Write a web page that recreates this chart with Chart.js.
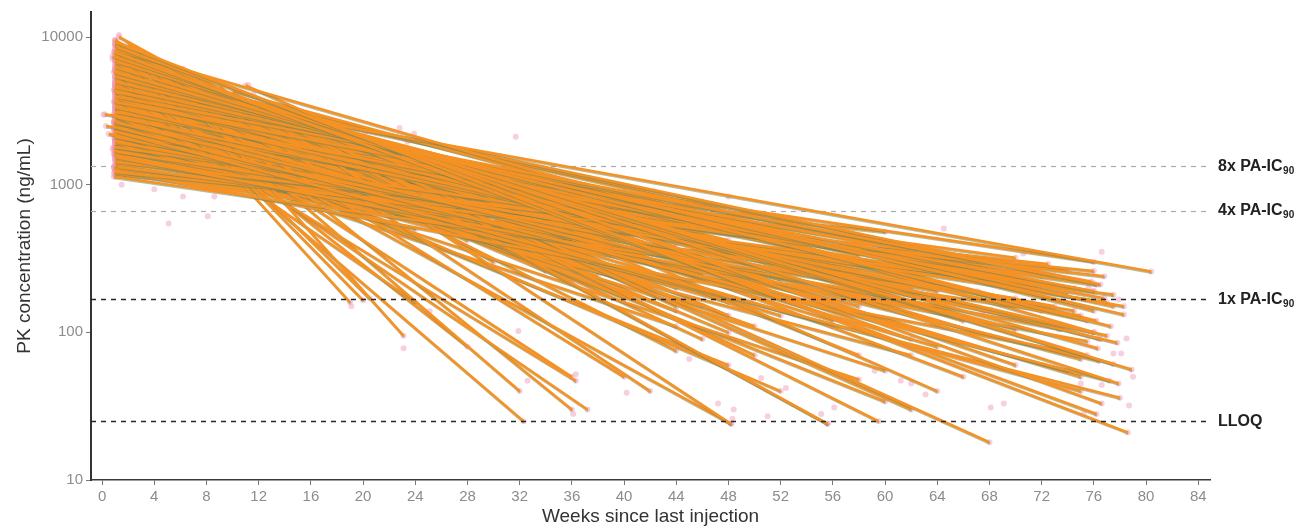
<!DOCTYPE html>
<html>
<head>
<meta charset="utf-8">
<script src="https://cdn.jsdelivr.net/npm/chart.js@4.4.1/dist/chart.umd.min.js"></script>
<style>
  html, body { margin: 0; padding: 0; background: #ffffff; }
  #wrap { width: 1301px; height: 528px; position: relative; }
</style>
</head>
<body>
<div id="wrap"><canvas id="pk"></canvas></div>
<script>
// ---- individual PK profiles: first and last observation per participant ----
const startWeek = [
  1.0, 1.1, 0.9, 1.0, 1.2, 1.0, 0.9, 1.1, 1.0, 1.0,
  1.0, 1.2, 0.9, 1.0, 1.1, 1.0, 0.9, 1.0, 1.1, 1.0,
  1.0, 0.9, 1.1, 1.0, 1.0, 1.2, 1.0, 0.9, 1.0, 1.1,
  1.0, 1.0, 0.9, 1.1, 1.0, 1.0, 1.2, 1.0, 0.9, 1.0,
  8.0, 4.0, 6.2, 9.0, 11.0, 2.0, 3.0, 5.0, 7.0, 10.0,
  12.0, 6.0, 9.0, 14.0, 1.0, 1.5, 1.0, 4.0, 1.0, 1.0,
  1.0, 1.1, 1.0, 1.0, 1.2, 1.0, 1.0, 2.0, 1.3, 1.0,
  1.0, 0.9, 1.0, 1.1, 1.0, 1.0, 1.0, 1.2, 0.9, 1.0,
  1.0, 1.1, 1.0, 1.0, 0.9, 1.0, 1.0, 1.1, 1.0, 1.0,
  1.0, 0.9, 1.0, 1.0, 1.1, 0.2, 0.3, 0.5, 1.0, 1.0,
  1.0, 1.1, 1.0, 0.9, 1.0, 2.0, 1.0, 1.0, 3.0, 1.0,
  1.0, 1.0, 1.1, 1.0, 1.0, 0.9, 1.0, 1.0, 1.1, 1.0,
  1.0, 1.0, 1.0, 1.2, 1.0, 1.0, 2.0, 1.0, 1.0, 1.0,
  1.1, 1.0, 0.9, 1.0, 1.0, 1.1, 1.0, 1.0, 1.0, 1.0,
  1.2, 1.0, 1.0, 0.9, 1.0, 1.0, 1.1, 1.0, 2.0, 3.0,
  4.0, 5.0, 6.0, 7.0, 8.0, 10.0, 1.0, 1.0, 1.0, 1.0,
  1.0, 1.0, 1.0, 1.1, 1.0, 1.0, 1.0, 1.0, 0.8, 1.0,
  1.0, 1.0, 1.0, 1.0, 1.0, 1.0, 1.0, 1.0, 1.0, 1.0,
  1.0, 1.1, 1.0, 0.9, 1.0, 1.0, 1.1, 1.0, 1.0, 1.0,
  1.0, 1.0, 0.9, 1.0, 1.0, 1.0, 1.1, 1.0, 1.0, 1.0
];
const startConc = [
  9250, 8560, 7920, 7320, 6780, 6270, 5800, 5360, 4970, 4590,
  4250, 3930, 3640, 3360, 3110, 2880, 2670, 2460, 2280, 2110,
  1950, 1800, 1670, 1540, 1430, 1320, 1220, 1130, 1250, 1380,
  2000, 3000, 4400, 5600, 7000, 8200, 3800, 2600, 1700, 1500,
  3640, 7100, 6100, 4600, 4700, 7900, 6500, 5500, 5000, 4300,
  3400, 4200, 3900, 3000, 9000, 7600, 8300, 7200, 5900, 3800,
  4600, 5200, 6800, 9600, 8800, 4000, 6000, 9000, 10000, 4650,
  3300, 2700, 2200, 1900, 4200, 3500, 5400, 2400, 1600, 1350,
  6200, 7400, 2900, 3100, 1200, 2000, 4800, 5800, 3700, 2500,
  1800, 1300, 3300, 4400, 2800, 3000, 2500, 2200, 3400, 2300,
  4100, 5000, 3000, 2100, 1750, 6000, 4800, 3600, 5200, 2750,
  1900, 1450, 6600, 7600, 3200, 2600, 4300, 5400, 3900, 2000,
  1600, 1250, 2900, 8000, 6400, 9000, 8500, 4700, 6000, 5000,
  4500, 3500, 3000, 2600, 2200, 1900, 1600, 7000, 8000, 5500,
  4000, 3200, 2800, 2400, 2000, 1700, 1400, 1150, 6500, 5800,
  5000, 4400, 3900, 3500, 3200, 3000, 9500, 8800, 7800, 6600,
  5200, 4300, 3600, 3100, 2500, 2100, 1800, 1550, 7400, 6900,
  5900, 4900, 3900, 3300, 2700, 2300, 1950, 1650, 8700, 7700,
  2600, 3400, 1900, 2300, 4200, 1500, 2900, 3700, 1700, 2050,
  5300, 1250, 2450, 3150, 4500, 1350, 6100, 2750, 1850, 3900
];
const endWeek = [
  78.6, 76.6, 76.2, 77.9, 78.9, 77.5, 76.3, 77.3, 78.3, 77.5,
  76.5, 75.8, 76.0, 77.0, 76.8, 75.5, 76.4, 77.2, 75.0, 76.0,
  74.5, 76.2, 77.0, 75.5, 76.8, 77.5, 76.0, 75.0, 74.0, 72.5,
  78.0, 74.0, 75.0, 76.2, 75.5, 76.0, 77.8, 78.3, 73.5, 74.5,
  80.4, 59.5, 55.6, 48.2, 64.0, 68.0, 62.0, 66.0, 70.0, 72.0,
  76.0, 64.0, 60.0, 68.0, 19.0, 20.0, 20.5, 23.1, 32.3, 36.3,
  37.2, 36.0, 40.0, 36.0, 32.0, 24.0, 28.0, 42.0, 55.6, 48.2,
  52.0, 60.0, 58.0, 62.0, 60.0, 64.0, 68.0, 66.0, 64.0, 70.0,
  44.0, 50.0, 48.0, 56.0, 62.0, 44.0, 70.0, 66.0, 72.0, 70.0,
  60.0, 56.0, 40.0, 44.0, 52.0, 76.0, 74.0, 70.0, 74.0, 73.0,
  72.0, 70.0, 68.0, 64.0, 66.0, 76.0, 76.5, 75.0, 74.0, 76.0,
  73.0, 70.0, 62.0, 58.0, 46.0, 40.0, 36.0, 30.0, 28.0, 24.0,
  20.0, 16.0, 32.0, 26.0, 34.0, 30.0, 24.0, 20.0, 30.0, 26.0,
  22.0, 34.0, 40.0, 30.0, 36.0, 28.0, 44.0, 36.0, 40.0, 44.0,
  48.0, 52.0, 56.0, 48.0, 52.0, 60.0, 40.0, 36.0, 46.0, 50.0,
  54.0, 58.0, 40.0, 44.0, 48.0, 52.0, 24.0, 28.0, 20.0, 18.0,
  16.0, 14.0, 20.0, 24.0, 18.0, 16.0, 22.0, 12.0, 32.0, 38.0,
  42.0, 46.0, 50.0, 56.0, 62.0, 58.0, 54.0, 50.0, 44.0, 48.0,
  48.0, 44.0, 40.0, 36.0, 40.0, 46.0, 52.0, 50.0, 38.0, 54.0,
  48.0, 48.0, 42.0, 38.0, 34.0, 32.0, 46.0, 58.0, 50.0, 56.0
];
const endConc = [
  21, 33, 28, 45, 56, 61, 78, 110, 132, 150,
  211, 221, 190, 95, 170, 120, 64, 47, 40, 100,
  140, 210, 160, 87, 240, 180, 260, 130, 74, 290,
  36, 55, 50, 120, 70, 100, 85, 150, 105, 200,
  258, 25, 24, 24, 40, 18, 30, 50, 60, 140,
  215, 160, 260, 300, 160, 165, 170, 95, 25, 47,
  30, 50, 50, 30, 40, 160, 80, 40, 24, 24,
  40, 55, 48, 70, 34, 80, 95, 125, 150, 170,
  75, 70, 60, 110, 200, 110, 160, 120, 240, 230,
  260, 310, 180, 200, 230, 300, 260, 320, 180, 150,
  115, 105, 140, 190, 230, 140, 90, 66, 200, 190,
  240, 220, 90, 70, 150, 240, 220, 380, 420, 500,
  700, 800, 330, 500, 260, 300, 600, 1400, 700, 900,
  1200, 650, 500, 1000, 700, 850, 600, 400, 450, 380,
  420, 420, 380, 520, 600, 480, 900, 800, 300, 320,
  360, 330, 800, 700, 600, 500, 900, 600, 1300, 1800,
  2000, 2200, 1500, 1200, 1400, 1300, 900, 1050, 350, 260,
  210, 230, 250, 230, 210, 260, 320, 380, 150, 130,
  160, 140, 260, 300, 170, 250, 130, 110, 350, 180,
  100, 330, 200, 240, 280, 500, 90, 150, 200, 120
];

// ---- other observed concentrations (dots) ----
const obsWeek = [
  64.5, 70.6, 71.3, 76.6, 73.3, 75.6, 77.9, 67.1, 68.1, 67.5,
  68.9, 73.3, 76.3, 78.5, 77.5, 78.1, 79.0, 75.0, 76.6, 62.0,
  63.1, 69.1, 68.1, 78.7, 75.2, 36.1, 36.3, 40.2, 47.2, 48.4,
  48.3, 51.0, 52.4, 50.5, 56.1, 55.1, 61.2, 59.2, 45.0, 47.4,
  19.1, 23.1, 25.1, 31.9, 32.6, 1.3, 0.8, 3.9, 6.0, 8.7,
  11.2, 11.6, 13.9, 16.4, 20.2, 22.8, 23.9, 0.1, 0.8, 1.5,
  4.0, 6.2, 8.1, 8.6, 0.9, 31.7, 48.0, 44.4, 23.4, 5.1
];
const obsConc = [
  505, 342, 352, 352, 270, 201, 167, 189, 143, 134,
  124, 105, 91, 91, 72, 72, 50, 45, 44, 45,
  38, 33, 31, 32, 28, 28, 52, 39, 33, 30,
  26, 27, 42, 49, 31, 28, 47, 55, 66, 90,
  150, 78, 139, 102, 47, 10300, 7100, 7100, 6100, 4590,
  4740, 4060, 3110, 2800, 2280, 2420, 2210, 2970, 1750, 1000,
  930, 830, 610, 830, 1320, 2110, 830, 710, 1950, 545
];

const xTicks = [0, 4, 8, 12, 16, 20, 24, 28, 32, 36, 40, 44, 48, 52, 56, 60, 64, 68, 72, 76, 80, 84];
const yTicks = [10, 100, 1000, 10000];

// ---- reference thresholds ----
const refLevels = [1336, 668, 167, 25];
const refLabels = ['8x PA-IC', '4x PA-IC', '1x PA-IC', 'LLOQ'];
const refSubs = ['90', '90', '90', ''];

const lineColor = 'rgb(246,146,36)';
const dotColor = 'rgba(238,150,185,0.45)';
const fontFam = '"Liberation Sans", Arial, sans-serif';

const datasets = [];
for (let i = 0; i < startWeek.length; i++) {
    datasets.push({
        type: 'line',
        data: [{ x: startWeek[i], y: startConc[i] }, { x: endWeek[i], y: endConc[i] }],
        borderColor: lineColor,
        borderWidth: 2.6,
        pointRadius: 0,
        order: 0
    });
}

const dots = obsWeek.map((w, i) => ({ x: w, y: obsConc[i] }));
startWeek.forEach((w, i) => dots.push({ x: w, y: startConc[i] }));
endWeek.forEach((w, i) => dots.push({ x: w, y: endConc[i] }));
datasets.push({
    type: 'scatter',
    data: dots,
    backgroundColor: dotColor,
    borderWidth: 0,
    pointRadius: 3,
    order: 1
});

// olive edge on each profile line
const lineShadow = {
    id: 'lineShadow',
    beforeDatasetDraw(chart, args) {
        if (args.meta.type !== 'line') return;
        const ctx = chart.ctx;
        ctx.save();
        ctx.shadowColor = 'rgba(120,135,90,0.55)';
        ctx.shadowOffsetX = 0.5;
        ctx.shadowOffsetY = 1.2;
        ctx.shadowBlur = 0;
    },
    afterDatasetDraw(chart, args) {
        if (args.meta.type !== 'line') return;
        chart.ctx.restore();
    }
};

function drawRef(chart, i) {
    const { ctx, chartArea } = chart;
    const y = Math.round(chart.scales.y.getPixelForValue(refLevels[i])) + 0.5;
    const dark = i >= 2;
    ctx.save();
    ctx.strokeStyle = dark ? '#262626' : '#ababab';
    ctx.lineWidth = dark ? 1.6 : 1.2;
    ctx.setLineDash([5, 5]);
    ctx.beginPath();
    ctx.moveTo(chartArea.left, y);
    ctx.lineTo(chartArea.right, y);
    ctx.stroke();
    ctx.restore();
}

const refLines = {
    id: 'refLines',
    beforeDatasetsDraw(chart) {
        drawRef(chart, 0);
        drawRef(chart, 1);
    },
    afterDatasetsDraw(chart) {
        drawRef(chart, 2);
        drawRef(chart, 3);
        const { ctx, chartArea } = chart;
        ctx.save();
        ctx.fillStyle = '#222';
        ctx.textBaseline = 'middle';
        refLevels.forEach((lv, i) => {
            const y = chart.scales.y.getPixelForValue(lv);
            const x = chartArea.right + 8;
            ctx.font = 'bold 16px ' + fontFam;
            ctx.fillText(refLabels[i], x, y);
            if (refSubs[i]) {
                const w = ctx.measureText(refLabels[i]).width;
                ctx.font = 'bold 10px ' + fontFam;
                ctx.fillText(refSubs[i], x + w + 0.5, y + 5);
            }
        });
        ctx.restore();
    }
};

new Chart(document.getElementById('pk'), {
    type: 'line',
    data: { datasets },
    options: {
        responsive: true,
        maintainAspectRatio: false,
        animation: false,
        devicePixelRatio: 1,
        layout: { padding: { top: 10, right: 91, left: 0, bottom: 0 } },
        plugins: { legend: { display: false }, tooltip: { enabled: false } },
        scales: {
            x: {
                type: 'linear',
                min: -0.85,
                max: 84.9,
                afterBuildTicks: s => { s.ticks = xTicks.map(v => ({ value: v })); },
                afterFit: s => { s.height = 48; },
                ticks: { color: '#8c8c8c', font: { family: fontFam, size: 15 }, padding: 3, maxRotation: 0 },
                grid: { display: true, drawOnChartArea: false, drawTicks: true, tickLength: 5, color: '#777' },
                border: { display: true, color: '#3a3a3a', width: 1.5 },
                title: { display: true, text: 'Weeks since last injection', color: '#333', font: { family: fontFam, size: 19 }, padding: { top: 0, bottom: 0 } }
            },
            y: {
                type: 'logarithmic',
                min: 10,
                max: 14770,
                afterBuildTicks: s => { s.ticks = yTicks.map(v => ({ value: v })); },
                afterFit: s => { s.width = 91; },
                ticks: { color: '#8c8c8c', font: { family: fontFam, size: 15 }, padding: 3, callback: v => String(v) },
                grid: { display: true, drawOnChartArea: false, drawTicks: true, tickLength: 5, color: '#777' },
                border: { display: true, color: '#333', width: 2 },
                title: { display: true, text: 'PK concentration (ng/mL)', color: '#333', font: { family: fontFam, size: 19 }, padding: { top: 13, bottom: 0 } }
            }
        }
    },
    plugins: [lineShadow, refLines]
});
</script>
</body>
</html>
